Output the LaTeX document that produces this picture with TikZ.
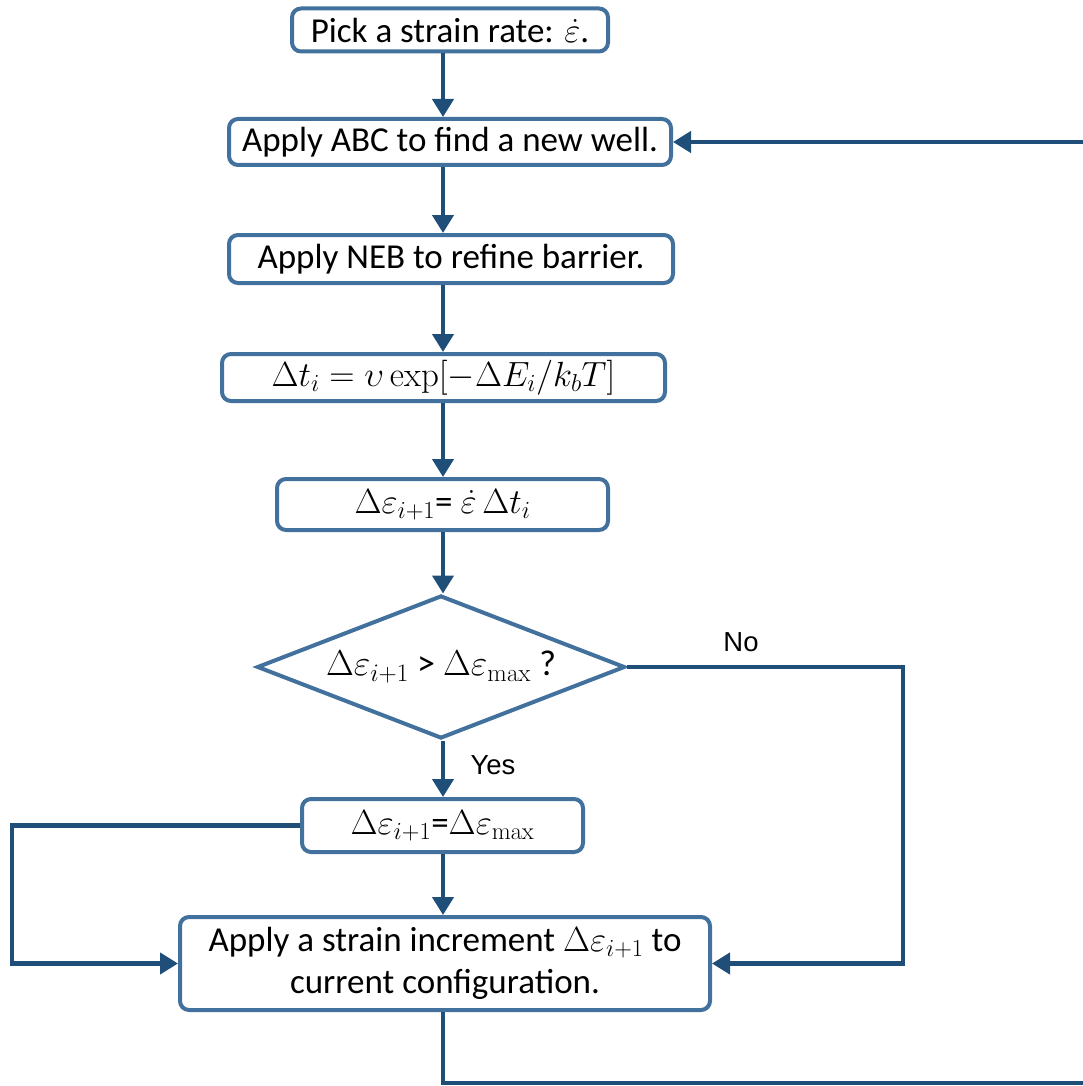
\RequirePackage{fix-cm}
\documentclass[tikz,border=0pt]{standalone}
\usepackage[no-math]{fontspec}
\setmainfont{Carlito}
\newfontfamily\arialf{Liberation Sans}
\usetikzlibrary{arrows.meta,shapes.geometric}
\definecolor{boxc}{HTML}{41719C}
\definecolor{linec}{HTML}{1F4E79}
\begin{document}
\begin{tikzpicture}[x=1pt,y=-1pt,
  box/.style={draw=boxc, line width=4pt, rounded corners=9pt, fill=white,
    inner sep=0pt, align=center, font=\fontsize{35}{42}\selectfont},
  dec/.style={draw=boxc, line width=4pt, diamond, aspect=2.57, fill=white, inner sep=0pt,
    font=\fontsize{36}{42}\selectfont},
  conn/.style={draw=linec, line width=4.2pt},
  arr/.style={conn, -{Triangle[length=18pt,width=21pt]}},
  lbl/.style={font=\arialf\fontsize{27.5}{32}\selectfont}]
\useasboundingbox (0,0) rectangle (1083,1086);
\coordinate (axis) at (443,0);
\coordinate (nox) at (903,0);
\coordinate (leftx) at (12,0);
\coordinate (rightedge) at (1083,0);
\coordinate (bottomy) at (0,1083);

\node[box, minimum width=316pt, minimum height=43pt] (b1) at (450,30) {Pick a strain rate: $\dot{\varepsilon}$.};
\node[box, minimum width=442pt, minimum height=46pt] (b2) at (450,142) {Apply ABC to find a new well.};
\node[box, minimum width=444pt, minimum height=48pt] (b3) at (451,259) {Apply NEB to refine barrier.};
\node[box, minimum width=443pt, minimum height=47pt] (b4) at (443.5,377.5) {$\Delta t_i = \upsilon\exp[-\Delta E_i/k_bT]$};
\node[box, minimum width=331pt, minimum height=51pt] (b5) at (442.5,504.5) {$\Delta\varepsilon_{i+1}$= $\dot{\varepsilon}\,\Delta t_i$};
\node[dec, minimum width=368pt, minimum height=143pt] (dia) at (441,667) {$\Delta\varepsilon_{i+1}$ > $\Delta\varepsilon_{\max}$ ?};
\node[box, minimum width=281pt, minimum height=53pt] (b7) at (442.5,825.5) {$\Delta\varepsilon_{i+1}$=$\Delta\varepsilon_{\max}$};
\node[box, minimum width=530pt, minimum height=93pt] (b8) at (445,963.5) {Apply a strain increment $\Delta\varepsilon_{i+1}$ to\\current configuration.};

\node[lbl, anchor=west] (yes) at (467,765) {Yes};
\node[lbl] (no) at (741,642) {No};

\draw[arr] (b1.south -| axis) -- (b2.north -| axis);
\draw[arr] (b2.south -| axis) -- (b3.north -| axis);
\draw[arr] (b3.south -| axis) -- (b4.north -| axis);
\draw[arr] (b4.south -| axis) -- (b5.north -| axis);
\draw[arr] (b5.south -| axis) -- (dia.north -| axis);
\draw[arr] (dia.south -| axis) -- (b7.north -| axis);
\draw[arr] (b7.south -| axis) -- (b8.north -| axis);
\draw[arr] (dia.east) -- (dia.east -| nox) |- (b8.east);
\draw[arr] (b7.west) -- (b7.west -| leftx) |- (b8.west);
\draw[conn] (b8.south -| axis) |- (bottomy -| rightedge);
\draw[arr] (b2.east -| rightedge) -- (b2.east);
\end{tikzpicture}
\end{document}
